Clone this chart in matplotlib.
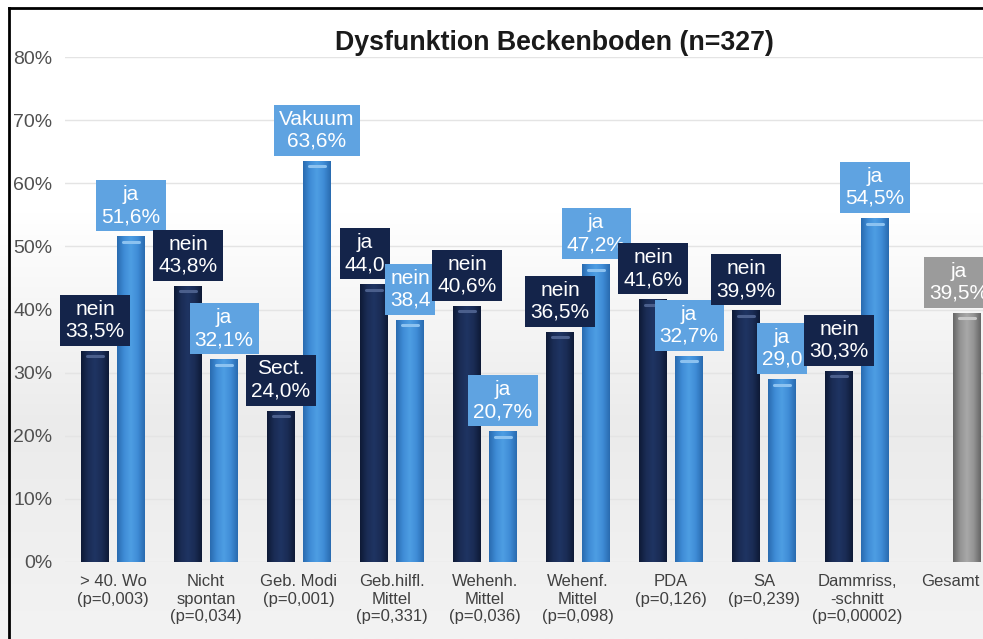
import numpy as np
import matplotlib
matplotlib.use("Agg")
import matplotlib.pyplot as plt
from matplotlib.colors import LinearSegmentedColormap
from matplotlib.lines import Line2D

plt.rcParams['font.family'] = ['Liberation Sans', 'DejaVu Sans']

# data
categories = ["> 40. Wo\n(p=0,003)", "Nicht\nspontan\n(p=0,034)", "Geb. Modi\n(p=0,001)",
              "Geb.hilfl.\nMittel\n(p=0,331)", "Wehenh.\nMittel\n(p=0,036)",
              "Wehenf.\nMittel\n(p=0,098)", "PDA\n(p=0,126)", "SA\n(p=0,239)",
              "Dammriss,\n-schnitt\n(p=0,00002)", "Gesamt"]
first_vals = [33.5, 43.8, 24.0, 44.0, 40.6, 36.5, 41.6, 39.9, 30.3]
second_vals = [51.6, 32.1, 63.6, 38.4, 20.7, 47.2, 32.7, 29.0, 54.5]
total_val = 39.5
first_labels = ["nein\n33,5%", "nein\n43,8%", "Sect.\n24,0%", "ja\n44,0", "nein\n40,6%",
                "nein\n36,5%", "nein\n41,6%", "nein\n39,9%", "nein\n30,3%"]
second_labels = ["ja\n51,6%", "ja\n32,1%", "Vakuum\n63,6%", "nein\n38,4", "ja\n20,7%",
                 "ja\n47,2%", "ja\n32,7%", "ja\n29,0", "ja\n54,5%"]
total_label = "ja\n39,5%"

DARK = "#17284f"
LIGHT = "#3e8ad4"
GRAY = "#8c8c8c"
DARK_BOX = "#14244a"
LIGHT_BOX = "#5fa3e1"
GRAY_BOX = "#9b9b9b"

W, H = 983, 639
fig = plt.figure(figsize=(W / 100, H / 100), dpi=100)

# background: white on top fading to light grey
bg = fig.add_axes([0, 0, 1, 1], zorder=-10)
grad = np.linspace(0, 1, 256).reshape(-1, 1)
bg_cmap = LinearSegmentedColormap.from_list("bg", ["#ffffff", "#ffffff", "#ebebeb", "#f3f3f3"])
bg.imshow(grad, aspect='auto', cmap=bg_cmap, extent=[0, 1, 1, 0])
bg.set_axis_off()

ax = fig.add_axes([65 / W, 77 / H, (W - 65) / W, 505 / H])
ax.set_facecolor('none')
x_left, x_right = -0.516, -0.516 + (W - 65) / 93.0

n = len(first_vals)
x = np.arange(n)
bw = 0.30
off = 0.194

def shade(color, dark_edge, mid):
    return LinearSegmentedColormap.from_list("s", [dark_edge, color, mid, color, dark_edge])

bars1 = ax.bar(x - off, first_vals, bw, color=DARK, zorder=2)
bars2 = ax.bar(x + off, second_vals, bw, color=LIGHT, zorder=2)
bars3 = ax.bar([n + off - 0.01], [total_val], bw, color=GRAY, zorder=2)

styles = [(bars1, shade("#1a2c55", "#0e1a36", "#1f3463"), "#4b5f8c"),
          (bars2, shade("#3f8cd6", "#2a6bb0", "#4e9ee3"), "#8cc2f0"),
          (bars3, shade("#939393", "#666666", "#a8a8a8"), "#c8c8c8")]
hgrad = np.linspace(0, 1, 64).reshape(1, -1)
for bars, cm, hl in styles:
    for b in bars:
        x0, w, h = b.get_x(), b.get_width(), b.get_height()
        im = ax.imshow(hgrad, aspect='auto', cmap=cm, extent=[x0, x0 + w, 0, h], zorder=3)
        im.set_clip_path(b)
        ax.plot([x0 + w * 0.2, x0 + w * 0.8], [h - 0.9, h - 0.9], color=hl, lw=2.2,
                solid_capstyle='round', zorder=4)
ax.set_xlim(x_left, x_right)
ax.set_ylim(0, 80)

# grid
ax.set_yticks(np.arange(0, 81, 10))
ax.set_yticklabels([f"{v}%" for v in range(0, 81, 10)], fontsize=14, color="#505050")
ax.yaxis.grid(True, color="#e4e4e4", lw=1.0, zorder=0)
ax.set_axisbelow(True)
ax.set_xticks(np.arange(n + 1))
ax.set_xticklabels(categories, fontsize=12, color="#404040", linespacing=1.2, va='top')
ax.tick_params(axis='both', length=0)
ax.tick_params(axis='y', pad=9)
ax.tick_params(axis='x', pad=9)
for s in ax.spines.values():
    s.set_visible(False)

# data labels, drawn left to right so later boxes sit on top
ypx = 505 / 80.0
lift = 30.5 / ypx
label_dx = {3: -0.097}

def tag(xc, val, txt, boxc):
    ax.text(xc, val + lift, txt, ha='center', va='center', fontsize=15, color='white',
            linespacing=1.2, zorder=10,
            bbox=dict(boxstyle='square,pad=0.24', fc=boxc, ec='none'))

for i in range(n):
    tag(i - off + label_dx.get(i, 0), first_vals[i], first_labels[i], DARK_BOX)
    tag(i + off, second_vals[i], second_labels[i], LIGHT_BOX)
tag(n + off - 0.1, total_val, total_label, GRAY_BOX)

fig.text(554 / W, 1 - 43 / H, "Dysfunktion Beckenboden (n=327)", ha='center', va='center',
         fontsize=19.3, fontweight='bold', color="#1a1a1a")

# frame lines of the slide
fig.add_artist(Line2D([9 / W, 9 / W], [0, 1 - 8 / H], color='black', lw=2.0))
fig.add_artist(Line2D([9 / W, 1], [1 - 8 / H, 1 - 8 / H], color='black', lw=2.0))

fig.savefig("out.png", dpi=100)
